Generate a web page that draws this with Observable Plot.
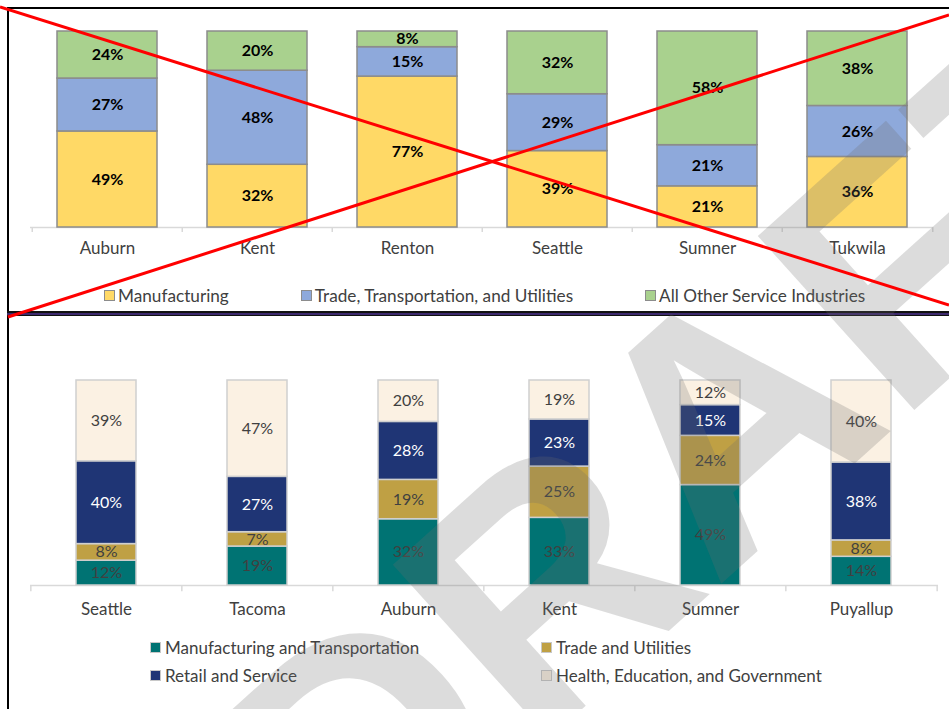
<!DOCTYPE html>
<html>
<head>
<meta charset="utf-8">
<script src="https://cdn.jsdelivr.net/npm/d3@7"></script>
<script src="https://cdn.jsdelivr.net/npm/@observablehq/plot@0.6"></script>
<style>
  body { margin: 0; background: #fff; }
  #page { position: relative; width: 949px; height: 709px; overflow: hidden; background: #fff; }
  .abs { position: absolute; }
  .legend-item { display: inline-flex; align-items: center; white-space: nowrap; }
  .sw { display: inline-block; width: 9px; height: 9px; margin-right: 3px; }
</style>
</head>
<body>
<div id="page"></div>
<script>
// ---------- Top chart data ----------
const topCities = ["Auburn", "Kent", "Renton", "Seattle", "Sumner", "Tukwila"];
const topSeries = ["Manufacturing", "Trade, Transportation, and Utilities", "All Other Service Industries"];
const topManufacturing = [49, 32, 77, 39, 21, 36];
const topTrade = [27, 48, 15, 29, 21, 26];
const topOther = [24, 20, 8, 32, 58, 38];
const topColors = ["#FFD966", "#8EA9DB", "#A9D18E"];

// ---------- Bottom chart data ----------
const botCities = ["Seattle", "Tacoma", "Auburn", "Kent", "Sumner", "Puyallup"];
const botSeries = ["Manufacturing and Transportation", "Trade and Utilities", "Retail and Service", "Health, Education, and Government"];
const botManufTransp = [12, 19, 32, 33, 49, 14];
const botTradeUtil = [8, 7, 19, 25, 24, 8];
const botRetail = [40, 27, 28, 23, 15, 38];
const botHealth = [39, 47, 20, 19, 12, 40];
const botColors = ["#007373", "#BFA044", "#1F3575", "#FBF1E3"];
const botLabelColors = ["#404040", "#404040", "#ffffff", "#404040"];

const page = document.getElementById("page");

function tidy(cities, series, valueArrays) {
  return valueArrays.flatMap((vals, i) =>
    vals.map((v, j) => ({ city: cities[j], series: series[i], value: v, order: i })));
}

const topData = tidy(topCities, topSeries, [topManufacturing, topTrade, topOther]);
const botData = tidy(botCities, botSeries, [botManufTransp, botTradeUtil, botRetail, botHealth]);

// ---------- Top chart ----------
const topW = 949, topML = 30, topMR = 16;
const topStep = (topW - topML - topMR) / topCities.length;
const topPlot = Plot.plot({
  width: topW, height: 265,
  marginTop: 31, marginBottom: 38, marginLeft: topML, marginRight: topMR,
  x: { domain: topCities, paddingInner: 0.335, paddingOuter: 0.1675, label: null },
  y: { domain: [0, 1], axis: null },
  color: { domain: topSeries, range: topColors },
  style: { fontFamily: "Lato, 'Open Sans', sans-serif", background: "transparent", color: "#404040", overflow: "visible" },
  marks: [
    Plot.ruleY([0], { stroke: "#d9d9d9", strokeWidth: 1.5 }),
    Plot.ruleX(topCities, { x: d => d, y1: 0, y2: -0.025, dx: -topStep / 2, stroke: "#d9d9d9", strokeWidth: 1.5 }),
    Plot.ruleX([topCities[topCities.length - 1]], { x: d => d, y1: 0, y2: -0.025, dx: topStep / 2, stroke: "#d9d9d9", strokeWidth: 1.5 }),
    Plot.barY(topData, Plot.stackY({
      x: "city", y: "value", fill: "series", order: topSeries, offset: "normalize",
      stroke: "#8c8c8c", strokeWidth: 1.5
    })),
    Plot.axisX({ tickSize: 0, tickPadding: 14, fontSize: 17, label: null }),
    Plot.text(topData, Plot.stackY({
      x: "city", y: "value", z: "series", order: topSeries, offset: "normalize",
      text: d => d.value + "%", fontWeight: "bold", fontSize: 16, fill: "#000"
    }))
  ]
});
topPlot.classList.add("abs");
topPlot.style.left = "0px";
topPlot.style.top = "0px";
page.appendChild(topPlot);

// Top legend
const topLegend = document.createElement("div");
topLegend.className = "abs";
topLegend.style.cssText = "left:104px;top:285px;height:20px;display:flex;align-items:center;font-family:Lato,'Open Sans',sans-serif;font-size:17.2px;color:#404040;";
topSeries.forEach((s, i) => {
  const item = document.createElement("span");
  item.className = "legend-item";
  item.style.marginRight = i < topSeries.length - 1 ? "72px" : "0";
  item.innerHTML = `<span class="sw" style="background:${topColors[i]};border:1px solid #8c8c8c;"></span>${s}`;
  topLegend.appendChild(item);
});
page.appendChild(topLegend);

// ---------- Bottom chart ----------
const botW = 949, botML = 30, botMR = 11;
const botStep = (botW - botML - botMR) / botCities.length;
const botPlot = Plot.plot({
  width: botW, height: 300,
  marginTop: 64, marginBottom: 31, marginLeft: botML, marginRight: botMR,
  x: { domain: botCities, paddingInner: 0.6, paddingOuter: 0.3, label: null },
  y: { domain: [0, 1], axis: null },
  color: { domain: botSeries, range: botColors },
  style: { fontFamily: "Lato, 'Open Sans', sans-serif", background: "transparent", color: "#404040", overflow: "visible" },
  marks: [
    Plot.ruleY([0], { stroke: "#d9d9d9", strokeWidth: 1.5 }),
    Plot.ruleX(botCities, { x: d => d, y1: 0, y2: -0.03, dx: -botStep / 2, stroke: "#d9d9d9", strokeWidth: 1.5 }),
    Plot.ruleX([botCities[botCities.length - 1]], { x: d => d, y1: 0, y2: -0.03, dx: botStep / 2, stroke: "#d9d9d9", strokeWidth: 1.5 }),
    Plot.barY(botData, Plot.stackY({
      x: "city", y: "value", fill: "series", order: botSeries, offset: "normalize",
      stroke: "#cfcfcf", strokeWidth: 1.5
    })),
    Plot.axisX({ tickSize: 0, tickPadding: 17, fontSize: 17, label: null }),
    Plot.text(botData, Plot.stackY({
      x: "city", y: "value", z: "series", order: botSeries, offset: "normalize",
      text: d => d.value + "%", fontSize: 16, fill: d => botLabelColors[d.order]
    }))
  ]
});
botPlot.classList.add("abs");
botPlot.style.left = "0px";
botPlot.style.top = "316px";
page.appendChild(botPlot);

// Bottom legend (2 columns)
const colX = [150, 541], rowY = [637, 665];
const legendOrder = [[0, 0, 0], [1, 1, 0], [2, 0, 1], [3, 1, 1]]; // [seriesIndex, col, row]
legendOrder.forEach(([si, c, r]) => {
  const item = document.createElement("div");
  item.className = "abs legend-item";
  item.style.cssText += `left:${colX[c]}px;top:${rowY[r]}px;height:20px;font-family:Lato,'Open Sans',sans-serif;font-size:17px;color:#404040;`;
  item.innerHTML = `<span class="sw" style="width:9px;height:9px;background:${botColors[si]};border:1px solid #c8c8c8;margin-right:4px;"></span>${botSeries[si]}`;
  page.appendChild(item);
});

// ---------- Frame borders ----------
const frame = [
  "left:7px;top:7px;width:942px;height:2px;background:#000;",
  "left:7px;top:7px;width:2px;height:702px;background:#000;",
  "left:7px;top:311px;width:942px;height:2px;background:#111;",
  "left:7px;top:313px;width:942px;height:2px;background:#3d2a6e;",
  "left:7px;top:315px;width:942px;height:1px;background:#111;"
];
frame.forEach(css => {
  const d = document.createElement("div");
  d.className = "abs";
  d.style.cssText = css;
  page.appendChild(d);
});

// ---------- Watermark and red cross ----------
const ns = "http://www.w3.org/2000/svg";
const ov = document.createElementNS(ns, "svg");
ov.setAttribute("width", 949);
ov.setAttribute("height", 709);
ov.setAttribute("class", "abs");
ov.style.left = "0px"; ov.style.top = "0px"; ov.style.pointerEvents = "none";
ov.innerHTML = `
  <text transform="translate(350,918) rotate(-42)" font-family="'Liberation Sans', Arial, sans-serif"
        font-weight="bold" font-size="340" fill="rgb(108,108,108)" fill-opacity="0.24">DRAFT</text>
  <line x1="0" y1="7" x2="949" y2="305" stroke="#ff0000" stroke-width="3"/>
  <line x1="8" y1="317" x2="949" y2="15" stroke="#ff0000" stroke-width="3"/>
`;
page.appendChild(ov);
</script>
</body>
</html>
